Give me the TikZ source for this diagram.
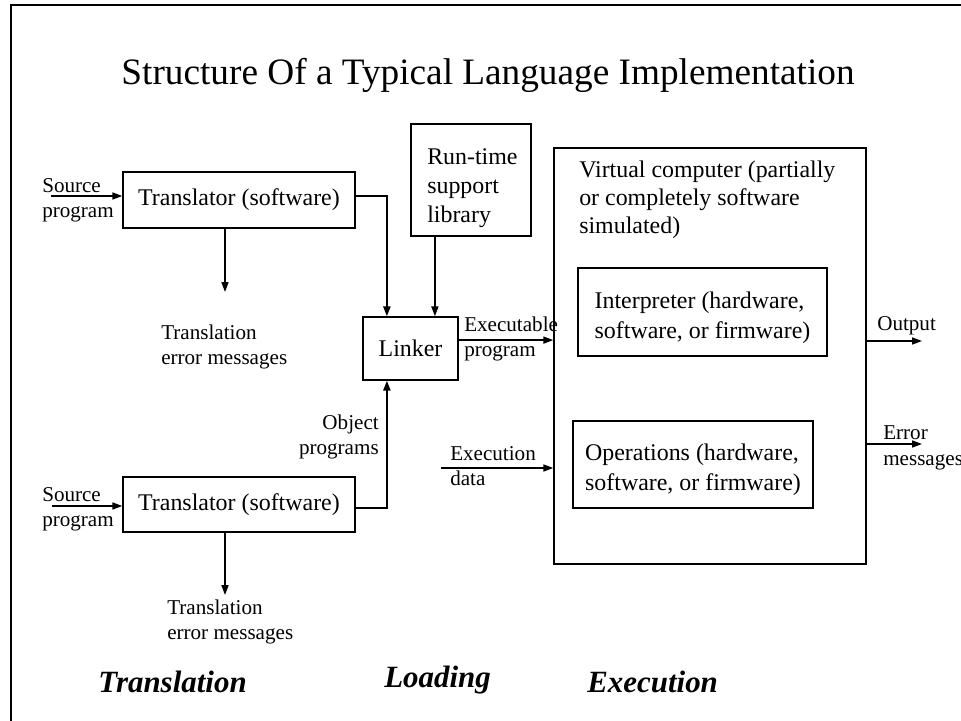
\documentclass[tikz,border=0pt]{standalone}
\usepackage{fontspec}
\setmainfont{Liberation Serif}
\usetikzlibrary{arrows.meta}
\definecolor{inkblack}{RGB}{0,0,0}

\begin{document}
\begin{tikzpicture}[x=0.025cm, y=-0.025cm,
    box/.style={draw,line width=1pt,inner sep=0pt,align=left,font=\fontsize{17}{21}\selectfont},
    txt/.style={inner sep=0pt,align=left,font=\fontsize{15}{18}\selectfont},
    phase/.style={inner sep=0pt,font=\fontsize{22}{26}\selectfont\bfseries\itshape},
    arr/.style={-{Triangle[length=7pt,width=5pt]},line width=1pt,inkblack}]
  \useasboundingbox (0,0) rectangle (961,721);
  \draw[line width=2pt] (11,721) -- (11,5) -- (961,5);
  \node[font=\fontsize{26.5}{30}\selectfont] (title) at (488,75) {Structure Of a Typical Language Implementation};

  % translation
  \node[box,minimum width=5.8cm,minimum height=1.4cm] (tr1) at (239,200) {Translator (software)};
  \node[box,minimum width=5.8cm,minimum height=1.375cm] (tr2) at (239,504.5) {Translator (software)};
  \node[txt,anchor=west] (src1) at (42,200) {Source\\program};
  \node[txt,anchor=west] (src2) at (42,509) {Source\\program};
  \node[txt,anchor=west] (err1) at (161,347) {Translation\\error messages};
  \node[txt,anchor=west] (err2) at (167,622) {Translation\\error messages};
  \coordinate (s1) at (51,196);
  \coordinate (s2) at (52,506);
  \coordinate (e1) at (225,292);
  \coordinate (e2) at (225,595);
  \draw[arr] (s1) -- (s1 -| tr1.west);
  \draw[arr] (s2) -- (s2 -| tr2.west);
  \draw[arr] (e1 |- tr1.south) -- (e1);
  \draw[arr] (e2 |- tr2.south) -- (e2);

  % loading
  \node[box,minimum width=2.375cm,minimum height=1.575cm] (lk) at (410.5,348.5) {Linker};
  \node[draw,line width=1pt,minimum width=3cm,minimum height=2.8cm] (rt) at (471,180) {};
  \node[txt,anchor=west,font=\fontsize{17}{20.5}\selectfont] (rtt) at (427,188) {Run-time\\support\\library};
  \node[txt,anchor=east,align=right] (obj) at (379,437) {Object\\programs};
  \node[txt,anchor=west] (exe) at (464,339) {Executable\\program};
  \draw[arr,line width=1.4pt] ([yshift=0.1cm]tr1.east) -| ([xshift=-0.59cm]lk.north);
  \draw[arr,line width=1.4pt] ([yshift=-0.09cm]tr2.east) -| ([xshift=-0.59cm]lk.south);
  \draw[arr] ([xshift=0.61cm]lk.north |- rt.south) -- ([xshift=0.61cm]lk.north);

  % execution
  \node[draw,line width=1pt,minimum width=7.8cm,minimum height=10.4cm] (vc) at (710,356) {};
  \node[txt,anchor=west,font=\fontsize{17}{20}\selectfont] (vct) at (579,200) {Virtual computer (partially\\or completely software\\simulated)};
  \node[box,minimum width=6.225cm,minimum height=2.2cm] (int) at (702.5,312) {};
  \node[txt,font=\fontsize{17}{21}\selectfont] (intt) at (702.5,318) {Interpreter (hardware,\\software, or firmware)};
  \node[box,minimum width=6cm,minimum height=2.175cm] (ops) at (693,464.5) {};
  \node[txt,font=\fontsize{17}{21}\selectfont] (opst) at (693,470) {Operations (hardware,\\software, or firmware)};
  \node[txt,anchor=west] (dat) at (450,466) {Execution\\data};
  \node[txt,anchor=west] (out) at (877,326) {Output};
  \node[txt,anchor=west] (msg) at (883,448) {Error\\messages};
  \coordinate (o1) at (922,341);
  \coordinate (m1) at (922,444);
  \coordinate (d1) at (441,468);
  \draw[arr] ([yshift=0.21cm]lk.east) -- ([yshift=0.21cm]lk.east -| vc.west);
  \draw[arr] (d1) -- (d1 -| vc.west);
  \draw[arr] (o1 -| vc.east) -- (o1);
  \draw[arr] (m1 -| vc.east) -- (m1);

  \node[phase,anchor=west] (ph1) at (98,682) {Translation};
  \node[phase,anchor=west] (ph2) at (384,680) {Loading};
  \node[phase,anchor=west] (ph3) at (587,682) {Execution};
\end{tikzpicture}
\end{document}
